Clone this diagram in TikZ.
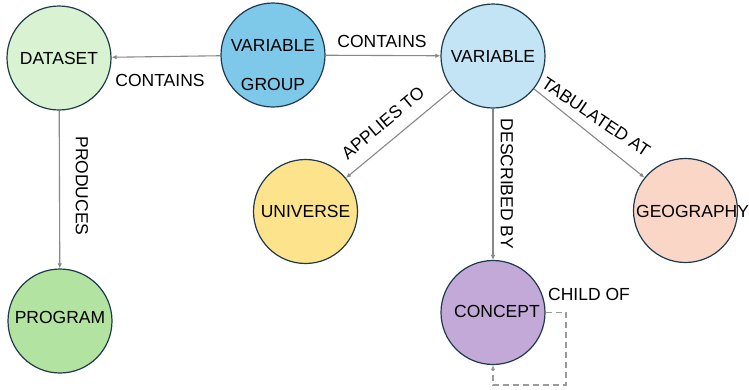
\documentclass[tikz,border=0pt]{standalone}
\usepackage{fontspec}
\setmainfont{Liberation Sans}
\usetikzlibrary{arrows.meta}
\definecolor{edgegray}{HTML}{888888}
\definecolor{ringcol}{HTML}{1E3A4C}
\definecolor{cds}{HTML}{D9F2D2}
\definecolor{cvg}{HTML}{7EC8EA}
\definecolor{cvar}{HTML}{C2E4F5}
\definecolor{cuni}{HTML}{FDE38C}
\definecolor{cgeo}{HTML}{F9D6C6}
\definecolor{cprog}{HTML}{B2E3A0}
\definecolor{ccon}{HTML}{C3A9D8}
\tikzset{
  ent/.style={circle, draw=ringcol, line width=1.2pt, minimum size=104pt, inner sep=0pt,
    font=\fontsize{17.5}{21}\selectfont},
  txt/.style={inner sep=0pt, font=\fontsize{17.5}{21}\selectfont},
  arr/.style={draw=edgegray, line width=1.1pt, -{Latex[length=5pt,width=4.5pt]}},
  loopline/.style={draw=edgegray!85, line width=1.1pt, dash pattern=on 6pt off 4pt, -{Latex[length=5pt,width=4.5pt]}}
}
\begin{document}
\begin{tikzpicture}[x=1pt,y=-1pt]
\useasboundingbox (0,0) rectangle (749,389);
\clip (0,0) rectangle (749,389);
% nodes
\node[ent, fill=cds] (ds) at (59,58) {DATASET};
\node[ent, fill=cvg] (vg) at (273,55) {};
\node[txt] (vgt1) at (273,45.5) {VARIABLE};
\node[txt] (vgt2) at (273,84) {GROUP};
\node[ent, fill=cvar] (var) at (493,56) {VARIABLE};
\node[ent, fill=cuni] (uni) at (305.5,211.5) {UNIVERSE};
\node[ent, fill=cgeo] (geo) at (685.5,210.5) {};
\node[txt, anchor=west] (geot) at (636,211) {GEOGRAPHY};
\node[ent, fill=cprog] (prog) at (60,321) {};
\node[txt] (progt) at (60,317) {PROGRAM};
\node[ent, fill=ccon] (con) at (493,312.5) {};
\node[txt] (cont) at (497,311.5) {CONCEPT};
\coordinate (loopc) at (566,385);
% edges
\draw[arr] (vg) -- (ds);
\draw[arr] (vg) -- (var);
\draw[arr] (var) -- (uni);
\draw[arr] (var) -- (con);
\draw[arr] (var) -- (geo);
\draw[arr] (ds) -- (prog);
\draw[loopline] (con.east) -| (loopc) -| (con.south);
% labels
\node[txt] (l1) at (160,80.5) {CONTAINS};
\node[txt] (l2) at (382,41.5) {CONTAINS};
\node[txt, rotate=40] (l3) at (383,123) {APPLIES TO};
\node[txt, rotate=-90] (l4) at (507,184) {DESCRIBED BY};
\node[txt, rotate=-34] (l5) at (596,117) {TABULATED AT};
\node[txt, rotate=-90] (l6) at (82,186) {PRODUCES};
\node[txt] (l7) at (589,294) {CHILD OF};
\end{tikzpicture}
\end{document}
